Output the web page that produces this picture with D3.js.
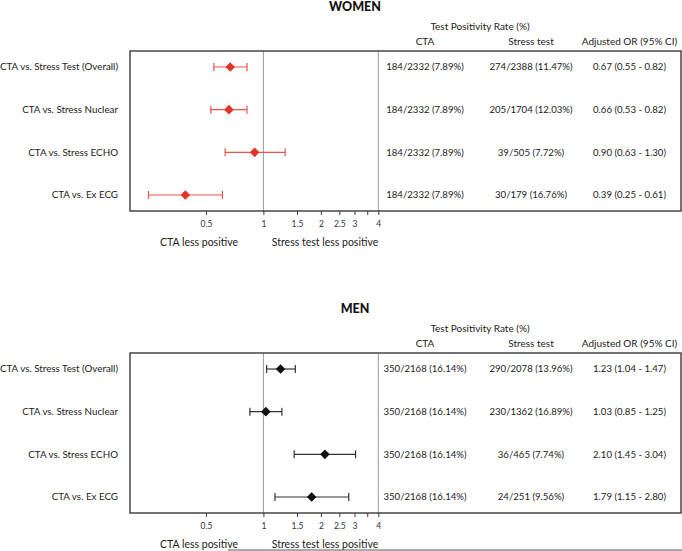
<!DOCTYPE html>
<html>
<head>
<meta charset="utf-8">
<script src="https://cdn.jsdelivr.net/npm/d3@7"></script>
<style>
  html, body { margin: 0; padding: 0; background: #fff; }
  svg { display: block; font-family: Lato, "Open Sans", sans-serif; }
</style>
</head>
<body>
<svg id="chart" width="682" height="551"></svg>
<script>
// ---- data ----
const comparisons = ["CTA vs. Stress Test (Overall)", "CTA vs. Stress Nuclear", "CTA vs. Stress ECHO", "CTA vs. Ex ECG"];
const panelTitles = ["WOMEN", "MEN"];

const womenOR = [0.67, 0.66, 0.90, 0.39];
const womenLo = [0.55, 0.53, 0.63, 0.25];
const womenHi = [0.82, 0.82, 1.30, 0.61];
const womenCtaPos = [184, 184, 184, 184];
const womenCtaN = [2332, 2332, 2332, 2332];
const womenStressPos = [274, 205, 39, 30];
const womenStressN = [2388, 1704, 505, 179];

const menOR = [1.23, 1.03, 2.10, 1.79];
const menLo = [1.04, 0.85, 1.45, 1.15];
const menHi = [1.47, 1.25, 3.04, 2.80];
const menCtaPos = [350, 350, 350, 350];
const menCtaN = [2168, 2168, 2168, 2168];
const menStressPos = [290, 230, 36, 24];
const menStressN = [2078, 1362, 465, 251];

const tickValues = [0.5, 1, 1.5, 2, 2.5, 3, 3.5, 4];
const tickLabels = ["0.5", "1", "1.5", "2", "2.5", "3", "", "4"];
const refLines = [1, 4];
const headerTop = "Test Positivity Rate (%)";
const colHeaders = ["CTA", "Stress test", "Adjusted OR (95% CI)"];
const bottomLabels = ["CTA less positive", "Stress test less positive"];

// ---- layout ----
const svg = d3.select("#chart");
const boxL = 130, boxR = 681;
const x = d3.scaleLog().base(2).domain([0.2, 4]).range([130, 378.3]);
const colX = [425, 531, 629.5];

function fmtPct(a, b) { return a + "/" + b + " (" + (a / b * 100).toFixed(2) + "%)"; }
function fmtOR(o, l, h) { return o.toFixed(2) + " (" + l.toFixed(2) + " - " + h.toFixed(2) + ")"; }

function drawPanel(off, title, orv, lo, hi, cP, cN, sP, sN, color, lineColor) {
  const g = svg.append("g").attr("transform", `translate(0,${off})`);
  const boxT = 51, boxB = 211;
  const y = d3.scalePoint().domain(comparisons).range([67, 195]);

  g.append("text").attr("x", 355).attr("y", 11).attr("text-anchor", "middle")
    .attr("font-size", 12.5).attr("font-weight", 900).attr("fill", "#111").text(title);
  g.append("text").attr("x", 480).attr("y", 29.5).attr("text-anchor", "middle")
    .attr("font-size", 10).attr("fill", "#222").text(headerTop);
  colHeaders.forEach((h, i) => {
    g.append("text").attr("x", colX[i]).attr("y", 45).attr("text-anchor", "middle")
      .attr("font-size", 10).attr("fill", "#222").text(h);
  });

  // reference lines
  g.selectAll(".ref").data(refLines).join("line")
    .attr("x1", d => x(d)).attr("x2", d => x(d)).attr("y1", boxT).attr("y2", boxB)
    .attr("stroke", "#9a9a9a").attr("stroke-width", 1);

  // box
  g.append("rect").attr("x", boxL).attr("y", boxT).attr("width", boxR - boxL).attr("height", boxB - boxT)
    .attr("fill", "none").attr("stroke", "#3a3a3a").attr("stroke-width", 1.4);

  // axis
  const axis = d3.axisBottom(x).tickValues(tickValues).tickSize(4).tickSizeOuter(0)
    .tickFormat((d, i) => tickLabels[i]);
  const ax = g.append("g").attr("transform", `translate(0,${boxB})`).call(axis);
  ax.select(".domain").remove();
  ax.selectAll(".tick line").attr("stroke", "#3a3a3a");
  ax.selectAll(".tick text").attr("font-size", 8.5).attr("fill", "#333").attr("dy", "1em")
    .attr("font-family", 'Lato, sans-serif');

  // row labels
  g.selectAll(".lab").data(comparisons).join("text")
    .attr("x", 118).attr("y", d => y(d)).attr("dy", "0.35em").attr("text-anchor", "end")
    .attr("font-size", 9.8).attr("fill", "#222").text(d => d);

  // whiskers
  const rows = comparisons.map((c, i) => ({ c, or: orv[i], lo: lo[i], hi: hi[i] }));
  const wg = g.selectAll(".w").data(rows).join("g");
  wg.append("line").attr("x1", d => x(d.lo)).attr("x2", d => x(d.hi))
    .attr("y1", d => y(d.c)).attr("y2", d => y(d.c)).attr("stroke", lineColor).attr("stroke-width", 1.2);
  wg.append("line").attr("x1", d => x(d.lo)).attr("x2", d => x(d.lo))
    .attr("y1", d => y(d.c) - 4).attr("y2", d => y(d.c) + 4).attr("stroke", lineColor).attr("stroke-width", 1.2);
  wg.append("line").attr("x1", d => x(d.hi)).attr("x2", d => x(d.hi))
    .attr("y1", d => y(d.c) - 4).attr("y2", d => y(d.c) + 4).attr("stroke", lineColor).attr("stroke-width", 1.2);
  wg.append("path").attr("d", d3.symbol(d3.symbolSquare, 46)())
    .attr("transform", d => `translate(${x(d.or)},${y(d.c)}) rotate(45)`).attr("fill", color);

  // table
  comparisons.forEach((c, i) => {
    const vals = [fmtPct(cP[i], cN[i]), fmtPct(sP[i], sN[i]), fmtOR(orv[i], lo[i], hi[i])];
    vals.forEach((v, j) => {
      g.append("text").attr("x", colX[j]).attr("y", y(c)).attr("dy", "0.35em").attr("text-anchor", "middle")
        .attr("font-size", 9.6).attr("fill", "#222").text(v);
    });
  });

  // bottom labels
  g.append("text").attr("x", 199).attr("y", 245.5).attr("text-anchor", "middle")
    .attr("font-size", 10.5).attr("fill", "#222").text(bottomLabels[0]);
  g.append("text").attr("x", 325).attr("y", 245.5).attr("text-anchor", "middle")
    .attr("font-size", 10.5).attr("fill", "#222").text(bottomLabels[1]);
}

drawPanel(0, panelTitles[0], womenOR, womenLo, womenHi, womenCtaPos, womenCtaN, womenStressPos, womenStressN, "#e2332a", "#e8544c");
drawPanel(302, panelTitles[1], menOR, menLo, menHi, menCtaPos, menCtaN, menStressPos, menStressN, "#111", "#333");

// cropped rule at very bottom
svg.append("line").attr("x1", 228).attr("x2", 682).attr("y1", 550).attr("y2", 550)
  .attr("stroke", "#555").attr("stroke-width", 1);
</script>
</body>
</html>
